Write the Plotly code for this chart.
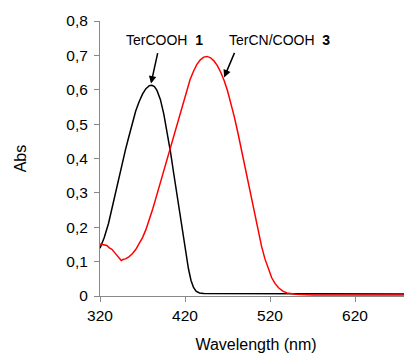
import plotly.graph_objects as go

# TerCOOH 1 (black)
wl_1 = [320, 325, 330, 334, 338, 342, 346, 350, 354, 358, 362, 366, 370, 374, 378, 381,
        384, 387, 391, 395, 399, 403, 407, 411, 415, 418, 421, 424, 427, 430, 433, 437,
        442, 460, 480, 500, 520, 540, 560, 590, 620, 650, 687]
abs_1 = [0.139, 0.170, 0.211, 0.255, 0.298, 0.342, 0.386, 0.426, 0.464, 0.502, 0.538, 0.565,
         0.587, 0.603, 0.612, 0.613, 0.609, 0.598, 0.572, 0.530, 0.478, 0.418, 0.352, 0.285,
         0.218, 0.168, 0.122, 0.080, 0.046, 0.025, 0.014, 0.009, 0.007, 0.007, 0.008, 0.006,
         0.006, 0.008, 0.008, 0.007, 0.007, 0.006, 0.006]

# TerCN/COOH 3 (red)
wl_3 = [320, 324, 328, 331, 334, 338, 342, 345, 347, 350, 354, 358, 362, 366, 370, 374,
        378, 382, 386, 390, 394, 398, 402, 406, 410, 414, 418, 422, 426, 430, 434, 438,
        442, 446, 450, 454, 458, 462, 466, 470, 474, 478, 482, 486, 490, 494, 498, 502,
        506, 510, 514, 518, 522, 526, 530, 535, 540, 550, 570, 600, 640, 687]
abs_3 = [0.151, 0.148, 0.147, 0.140, 0.136, 0.124, 0.112, 0.103, 0.106, 0.108, 0.114, 0.123,
         0.135, 0.151, 0.170, 0.193, 0.221, 0.253, 0.287, 0.322, 0.356, 0.390, 0.424, 0.459,
         0.494, 0.528, 0.563, 0.598, 0.630, 0.654, 0.674, 0.687, 0.695, 0.697, 0.693, 0.684,
         0.670, 0.651, 0.627, 0.597, 0.562, 0.521, 0.477, 0.430, 0.382, 0.333, 0.283, 0.234,
         0.188, 0.145, 0.108, 0.077, 0.053, 0.036, 0.024, 0.014, 0.009, 0.005, 0.003, 0.003,
         0.002, 0.003]

x_ticks = [320, 420, 520, 620]
y_ticks = [0, 0.1, 0.2, 0.3, 0.4, 0.5, 0.6, 0.7, 0.8]

FONT = "Liberation Sans, Arial, sans-serif"

fig = go.Figure()
fig.add_trace(go.Scatter(x=wl_1, y=abs_1, mode="lines", name="TerCOOH 1",
                         line=dict(color="black", width=1.5)))
fig.add_trace(go.Scatter(x=wl_3, y=abs_3, mode="lines", name="TerCN/COOH 3",
                         line=dict(color="#ff0000", width=1.5)))

# arrows
fig.add_annotation(x=380, y=0.618, ax=7, ay=-32, text="", showarrow=True,
                   arrowhead=2, arrowsize=1, arrowwidth=1.5, arrowcolor="black")
fig.add_annotation(x=466, y=0.636, ax=11, ay=-26, text="", showarrow=True,
                   arrowhead=2, arrowsize=1, arrowwidth=1.5, arrowcolor="black")
# labels
fig.add_annotation(x=396, y=0.744, text="TerCOOH  <b>1</b>", showarrow=False,
                   font=dict(family=FONT, size=14, color="black"))
fig.add_annotation(x=531, y=0.744, text="TerCN/COOH  <b>3</b>", showarrow=False,
                   font=dict(family=FONT, size=14, color="black"))

# the page body has an 8px margin, so margins are compensated
fig.update_layout(
    width=412, height=354,
    margin=dict(l=91.5, r=8, t=13, b=66),
    paper_bgcolor="white", plot_bgcolor="white",
    showlegend=False,
    separators=", ",
    font=dict(family=FONT, size=15.5, color="black"),
)
fig.update_xaxes(range=[320, 687], tickvals=x_ticks, showgrid=False, zeroline=False,
                 showline=True, linecolor="#888888", linewidth=1,
                 ticks="outside", ticklen=5, tickcolor="#888888", automargin=False,
                 title=dict(text="Wavelength (nm)", font=dict(size=16), standoff=16))
fig.update_yaxes(range=[0, 0.8], tickvals=y_ticks, showgrid=False, zeroline=False,
                 showline=True, linecolor="#888888", linewidth=1,
                 ticks="outside", ticklen=5, tickcolor="#888888", automargin=False,
                 ticklabelstandoff=3,
                 title=dict(text="Abs", font=dict(size=16), standoff=35))

fig.write_html("out.html")
